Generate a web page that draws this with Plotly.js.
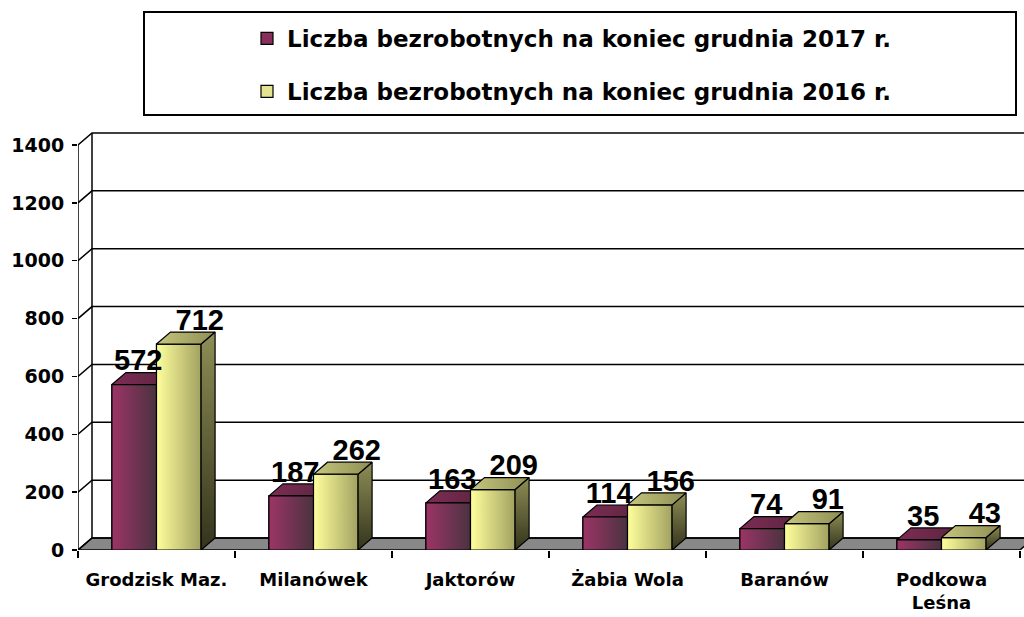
<!DOCTYPE html>
<html><head><meta charset="utf-8">
<script src="https://cdn.plot.ly/plotly-3.0.1.min.js"></script>
<style>html,body{margin:0;padding:0;background:#fff}#chart{width:1024px;height:617px}</style>
</head><body><div id="chart"></div>
<script>
// ---- data ----
const categories = ['Grodzisk Maz.', 'Milanówek', 'Jaktorów', 'Żabia Wola', 'Baranów', 'Podkowa<br>Leśna'];
const values2017 = [572, 187, 163, 114, 74, 35];
const values2016 = [712, 262, 209, 156, 91, 43];
const seriesNames = ['Liczba bezrobotnych na koniec grudnia 2017 r.', 'Liczba bezrobotnych na koniec grudnia 2016 r.'];
const yTickVals = [0, 200, 400, 600, 800, 1000, 1200, 1400];

// ---- geometry (pixel-based layout) ----
const W = 1024, H = 617, ML = 78, MR = 0, MT = 128, MB = 67;
const PX_X = 157;            // px per category
const PX_Y = 405 / 1400;     // px per unit
const plotW = W - ML - MR, plotH = H - MT - MB;
const xRange = [-0.5, -0.5 + plotW / PX_X];
const yRange = [0, plotH / PX_Y];
const DXU = 14 / PX_X, DYU = 12 / PX_Y;   // 3D depth in data units
const BW = 0.284;                          // bar width in category units
const idx = categories.map((_, i) => i);
const yMax = yTickVals[yTickVals.length - 1];

const styles = [
  { base: '#8a2f5c', front: [[0, '#9c3466'], [1, '#4a3340']], top: [[0, '#7d2c54'], [1, '#5c2540']], side: [[0, '#2c1a24'], [1, '#5a2a42']] },
  { base: '#e4e490', front: [[0, '#ffff9c'], [1, '#a2a262']], top: [[0, '#c6c67e'], [1, '#8e8e54']], side: [[0, '#33331c'], [1, '#8e8e56']] }
];
const series = [values2017, values2016];

// ---- shapes: floor, walls, grid ----
const shapes = [];
shapes.push({ type: 'path', xref: 'x', yref: 'y', layer: 'below',
  path: `M ${-0.5},0 L ${5.5},0 L ${5.5 + DXU},${DYU} L ${-0.5 + DXU},${DYU} Z`,
  fillcolor: '#888888', line: { color: '#000', width: 1.5 } });
yTickVals.forEach(v => {
  shapes.push({ type: 'path', xref: 'x', yref: 'y', layer: 'below',
    path: `M ${-0.5},${v} L ${-0.5 + DXU},${v + DYU} L ${xRange[1] + 1},${v + DYU}`,
    line: { color: '#000', width: 1.5 } });
});
shapes.push({ type: 'line', xref: 'x', yref: 'y', layer: 'below', x0: -0.5 + DXU, x1: -0.5 + DXU, y0: DYU, y1: yMax + DYU, line: { color: '#000', width: 1.5 } });
shapes.push({ type: 'line', xref: 'x', yref: 'y', layer: 'below', x0: -0.5, x1: -0.5, y0: 0, y1: yMax, line: { color: '#000', width: 1.5 } });
// legend box (paper coords from pixel values)
const px2paperX = p => (p - ML) / plotW, py2paperY = p => (H - MB - p) / plotH;
shapes.push({ type: 'rect', xref: 'paper', yref: 'paper', x0: px2paperX(144), x1: px2paperX(1016), y0: py2paperY(115), y1: py2paperY(12), line: { color: '#000', width: 2 }, fillcolor: 'rgba(0,0,0,0)' });

// ---- traces ----
const traces = [];
series.forEach((vals, s) => {
  traces.push({ type: 'bar', x: idx, y: vals, name: seriesNames[s], offset: s === 0 ? -BW : 0, width: BW,
    marker: { color: styles[s].base, line: { color: '#000', width: 1.2 } }, legendgroup: 'g' + s, hoverinfo: 'skip' });
});

function poly(pts, grad, gtype) {
  return { type: 'scatter', mode: 'lines', x: pts.map(p => p[0]), y: pts.map(p => p[1]), fill: 'toself',
    fillgradient: { type: gtype, colorscale: grad }, line: { color: '#000', width: 1.2 }, showlegend: false, hoverinfo: 'skip' };
}
function faces(i, s) {
  const v = series[s][i];
  const x0 = i - BW + s * BW, x1 = x0 + BW;
  return {
    front: poly([[x0, 0], [x1, 0], [x1, v], [x0, v], [x0, 0]], styles[s].front, 'horizontal'),
    side: poly([[x1, 0], [x1 + DXU, DYU], [x1 + DXU, v + DYU], [x1, v], [x1, 0]], styles[s].side, 'vertical'),
    top: poly([[x0, v], [x1, v], [x1 + DXU, v + DYU], [x0 + DXU, v + DYU], [x0, v]], styles[s].top, 'horizontal')
  };
}
idx.forEach(i => {
  const a = faces(i, 0), b = faces(i, 1);
  traces.push(a.side, a.top, a.front, b.front, b.side, b.top);
});

const labelShift = [4 / PX_X, 21 / PX_X];
const labelDrop = 5 / PX_Y;
series.forEach((vals, s) => {
  traces.push({ type: 'scatter', mode: 'text', showlegend: false, hoverinfo: 'skip', cliponaxis: false,
    x: idx.map(i => i - BW + s * BW + BW / 2 + labelShift[s]), y: vals.map(v => v + DYU - labelDrop),
    text: vals.map(String), textposition: 'top center',
    textfont: { family: 'Liberation Sans, Arial, sans-serif', size: 29, weight: 'bold', color: '#000' } });
});

const layout = {
  width: W, height: H, paper_bgcolor: '#fff', plot_bgcolor: 'rgba(0,0,0,0)',
  margin: { l: ML, r: MR, t: MT, b: MB, autoexpand: false },
  barmode: 'overlay', showlegend: true,
  xaxis: { range: xRange, tickmode: 'array', tickvals: idx, ticktext: categories, ticks: '', showgrid: false, zeroline: false, showline: false,
    tickfont: { family: 'DejaVu Sans', size: 18, weight: 'bold', color: '#000' }, ticklabelstandoff: 17,
    minor: { tickmode: 'array', tickvals: [-0.5, 0.5, 1.5, 2.5, 3.5, 4.5, 5.5], ticks: 'outside', ticklen: 7, tickwidth: 1.5, tickcolor: '#000', showgrid: false } },
  yaxis: { range: yRange, tickmode: 'array', tickvals: yTickVals, ticks: 'outside', ticklen: 5, tickwidth: 1.5, tickcolor: '#000',
    showgrid: false, zeroline: false, showline: false, ticklabelstandoff: 4,
    tickfont: { family: 'DejaVu Sans', size: 19, weight: 'bold', color: '#000' } },
  legend: { xref: 'container', yref: 'container', x: 247 / W, xanchor: 'left', y: 1 - 17 / H, yanchor: 'top',
    traceorder: 'grouped', tracegroupgap: 20, bgcolor: 'rgba(0,0,0,0)', borderwidth: 0,
    font: { family: 'DejaVu Sans', size: 23, weight: 'bold', color: '#000' } },
  shapes: shapes
};
Plotly.newPlot('chart', traces, layout, { displayModeBar: false, staticPlot: true });
</script></body></html>
